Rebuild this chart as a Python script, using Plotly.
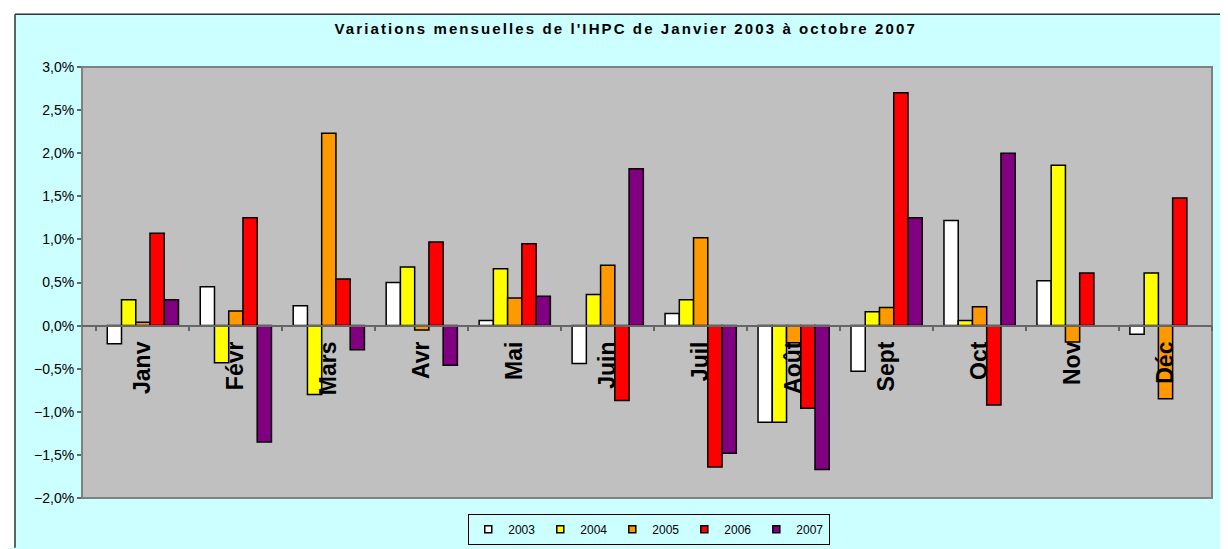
import plotly.graph_objects as go

months = ["Janv", "Févr", "Mars", "Avr", "Mai", "Juin", "Juil", "Août", "Sept", "Oct", "Nov", "Déc"]
years = ["2003", "2004", "2005", "2006", "2007"]

# monthly IHPC variation, in %
v2003 = [-0.21, 0.45, 0.23, 0.50, 0.06, -0.44, 0.14, -1.12, -0.53, 1.22, 0.52, -0.10]
v2004 = [0.30, -0.43, -0.80, 0.68, 0.66, 0.36, 0.30, -1.12, 0.16, 0.06, 1.86, 0.61]
v2005 = [0.04, 0.17, 2.23, -0.05, 0.32, 0.70, 1.02, -0.20, 0.21, 0.22, -0.19, -0.85]
v2006 = [1.07, 1.25, 0.54, 0.97, 0.95, -0.87, -1.64, -0.96, 2.70, -0.92, 0.61, 1.48]
v2007 = [0.30, -1.35, -0.28, -0.46, 0.34, 1.82, -1.48, -1.67, 1.25, 2.00, None, None]

series = [v2003, v2004, v2005, v2006, v2007]
colors = ["#FFFFFF", "#FFFF00", "#FF9900", "#FF0000", "#800080"]

W, H = 1228, 549
L, R, T, B = 74, 24, 59, 49
FONT = "Liberation Sans, Arial, sans-serif"


def px_x(p):
    return (p - L) / (W - L - R)


def px_y(p):
    return (H - B - p) / (H - T - B)


fig = go.Figure()

for year, vals, col in zip(years, series, colors):
    fig.add_trace(go.Bar(
        x=months, y=vals, name=year, legendgroup=year, showlegend=False,
        marker=dict(color=col, line=dict(color="black", width=1.5)),
    ))
    # small square legend symbols
    fig.add_trace(go.Scatter(
        x=[months[0]], y=[None], name=year, legendgroup=year, mode="markers",
        marker=dict(symbol="square", size=7, color=col, line=dict(color="black", width=1.5)),
    ))

title = "Variations mensuelles de l'IHPC de Janvier 2003 à octobre 2007"

fig.update_layout(
    width=W, height=H,
    margin=dict(l=L, r=R, t=T, b=B),
    paper_bgcolor="#CCFFFF",
    plot_bgcolor="#C0C0C0",
    separators=", ",
    barmode="group",
    bargap=0.234,
    bargroupgap=0,
    font=dict(family=FONT, color="black"),
    title=dict(
        text='<span style="letter-spacing:2.1px">' + title + '</span>',
        x=0.503, xanchor="center", y=1 - 20.5 / H, yanchor="middle",
        font=dict(size=15, weight="bold", family=FONT, color="black"),
    ),
    legend=dict(
        orientation="h", x=0.502, xanchor="center", y=px_y(516), yanchor="top",
        bgcolor="#CCFFFF", bordercolor="black", borderwidth=1,
        font=dict(size=12, family=FONT), itemwidth=30,
    ),
    showlegend=True,
)

fig.update_xaxes(
    type="category", anchor="free", position=0.4,
    showline=True, linecolor="#666666", linewidth=1.5,
    ticks="outside", tickson="boundaries", ticklen=5, tickcolor="#666666", tickwidth=1.5,
    tickangle=-90, ticklabelstandoff=6,
    tickfont=dict(size=23, weight="bold", family=FONT, color="black"),
    showgrid=False, zeroline=False, automargin=False,
)

fig.update_yaxes(
    range=[-2, 3], tick0=0, dtick=0.5, tickformat=".1f", ticksuffix="%",
    ticks="outside", ticklen=4, tickcolor="#666666", tickwidth=1.5,
    tickfont=dict(size=14, family=FONT, color="black"),
    showgrid=False, zeroline=False, showline=False, automargin=False,
)

# plot-area border and outer chart frame
fig.add_shape(type="rect", xref="paper", yref="paper", x0=0, y0=0, x1=1, y1=1,
              line=dict(color="#808080", width=2), layer="below")
fig.add_shape(type="rect", xref="paper", yref="paper",
              x0=px_x(-2), x1=px_x(6.5), y0=px_y(H + 2), y1=px_y(-2),
              fillcolor="white", line=dict(width=0))
fig.add_shape(type="rect", xref="paper", yref="paper",
              x0=px_x(-2), x1=px_x(W + 2), y0=px_y(4.5), y1=px_y(-2),
              fillcolor="white", line=dict(width=0))
fig.add_shape(type="line", xref="paper", yref="paper",
              x0=px_x(7), x1=px_x(7), y0=px_y(5), y1=px_y(H + 2),
              line=dict(color="#333333", width=1.5))
fig.add_shape(type="line", xref="paper", yref="paper",
              x0=px_x(7), x1=px_x(W + 2), y0=px_y(5), y1=px_y(5),
              line=dict(color="#333333", width=1.5))

fig.write_html("out.html")
